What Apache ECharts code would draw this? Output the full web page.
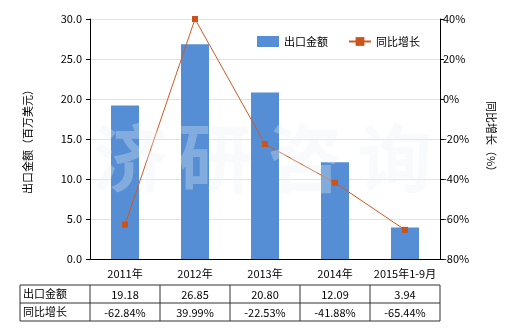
<!DOCTYPE html>
<html><head><meta charset="utf-8">
<script src="https://cdn.jsdelivr.net/npm/echarts@6/dist/echarts.min.js"></script>
<style>html,body{margin:0;padding:0;background:#fff}#c{width:520px;height:330px}</style>
</head><body><div id="c"></div>
<script>
var categories = ['2011年','2012年','2013年','2014年','2015年1-9月'];
var exportValues = [19.18, 26.85, 20.80, 12.09, 3.94];
var growthValues = [-62.84, 39.99, -22.53, -41.88, -65.44];
var exportLabels = ['19.18','26.85','20.80','12.09','3.94'];
var growthLabels = ['-62.84%','39.99%','-22.53%','-41.88%','-65.44%'];
var seriesNames = ['出口金额','同比增长'];
var watermarkChars = ['济','研','咨','询'];

var FONT = '"Noto Sans CJK SC", "Liberation Sans", sans-serif';
var GL = 90, GR = 440, GT = 19, GB = 259;
var chart = echarts.init(document.getElementById('c'), null, {renderer:'canvas'});

var tableTop = 285, rowH = 18, tableLeft = 20;
var colW = (GR - GL) / categories.length;
var g = [];
var rows = 2;
for (var r = 0; r <= rows; r++) {
  g.push({type:'line', shape:{x1:tableLeft, y1:tableTop + r*rowH, x2:GR, y2:tableTop + r*rowH}, style:{stroke:'#333', lineWidth:1}});
}
g.push({type:'line', shape:{x1:tableLeft, y1:tableTop, x2:tableLeft, y2:tableTop+rows*rowH}, style:{stroke:'#333', lineWidth:1}});
for (var c = 0; c <= categories.length; c++) {
  var x = GL + c*colW;
  g.push({type:'line', shape:{x1:x, y1:tableTop, x2:x, y2:tableTop+rows*rowH}, style:{stroke:'#333', lineWidth:1}});
}
var rowTexts = [exportLabels, growthLabels];
for (var r2 = 0; r2 < rows; r2++) {
  g.push({type:'text', x:tableLeft+3, y:tableTop + r2*rowH + rowH/2, style:{text:seriesNames[r2], font:'11px '+FONT, fill:'#000', textVerticalAlign:'middle', verticalAlign:'middle'}});
  for (var i = 0; i < categories.length; i++) {
    g.push({type:'text', x:GL + i*colW + colW/2, y:tableTop + r2*rowH + rowH/2 + 1, style:{text:rowTexts[r2][i], font:'11px '+FONT, fill:'#000', align:'center', verticalAlign:'middle', textAlign:'center', textVerticalAlign:'middle'}});
  }
}
// watermark
var wmX = [130, 215, 305, 395];
for (var w = 0; w < watermarkChars.length; w++) {
  g.push({type:'text', x:wmX[w], y:158, z:10, style:{text:watermarkChars[w], font:'bold 74px '+FONT, fill:'rgba(235,238,245,0.3)', align:'center', verticalAlign:'middle', textAlign:'center', textVerticalAlign:'middle'}});
}

chart.setOption({
  animation:false,
  textStyle:{fontFamily:FONT},
  grid:{left:GL, right:520-GR, top:GT, bottom:330-GB},
  legend:{
    data:[{name:seriesNames[0], icon:'rect'}, {name:seriesNames[1]}],
    left:252, top:31, itemWidth:22, itemHeight:11, itemGap:20,
    textStyle:{fontSize:11, color:'#000', fontFamily:FONT}
  },
  xAxis:{
    type:'category', data:categories, boundaryGap:true,
    axisLine:{lineStyle:{color:'#000'}},
    axisTick:{alignWithLabel:true, length:4, lineStyle:{color:'#000'}},
    axisLabel:{color:'#000', fontSize:11, margin:9, interval:0, fontFamily:FONT}
  },
  yAxis:[{
    type:'value', min:0, max:30, interval:5, position:'left',
    name:'出口金额（百万美元）', nameLocation:'middle', nameGap:57, nameRotate:90,
    nameTextStyle:{fontSize:11, color:'#000', fontFamily:FONT},
    axisLine:{show:true, lineStyle:{color:'#000'}},
    axisTick:{show:true, length:4, lineStyle:{color:'#000'}},
    axisLabel:{color:'#000', fontSize:11, formatter:function(v){return v.toFixed(1);}, fontFamily:FONT},
    splitLine:{lineStyle:{color:'#e3e3e3'}}
  },{
    type:'value', min:-80, max:40, interval:20, position:'right',
    name:'同比增长（%）', nameLocation:'middle', nameGap:46, nameRotate:-90,
    nameTextStyle:{fontSize:11, color:'#000', fontFamily:FONT},
    axisLine:{show:true, lineStyle:{color:'#000'}},
    axisTick:{show:true, length:4, lineStyle:{color:'#000'}},
    axisLabel:{color:'#000', fontSize:11, formatter:'{value}%', margin:3, fontFamily:FONT},
    splitLine:{show:false}
  }],
  series:[{
    name:seriesNames[0], type:'bar', data:exportValues, yAxisIndex:0,
    barWidth:28, itemStyle:{color:'#558ED5'}
  },{
    name:seriesNames[1], type:'line', data:growthValues, yAxisIndex:1,
    symbol:'rect', symbolSize:6, z:5,
    lineStyle:{color:'#CE5A22', width:1}, itemStyle:{color:'#C9541C'}
  }],
  graphic:g
});
</script></body></html>
